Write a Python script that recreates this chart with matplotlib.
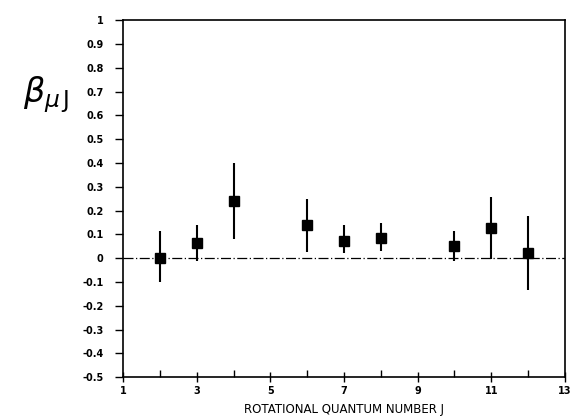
import matplotlib
matplotlib.use("Agg")
import matplotlib.pyplot as plt
import numpy as np

J = [2, 3, 4, 6, 7, 8, 10, 11, 12]
beta = [0.0, 0.064, 0.24, 0.139, 0.073, 0.083, 0.05, 0.125, 0.022]
err_low = [0.10, 0.074, 0.16, 0.113, 0.053, 0.053, 0.06, 0.13, 0.156]
err_high = [0.113, 0.076, 0.16, 0.108, 0.067, 0.063, 0.065, 0.13, 0.154]

xticks_major = [1, 3, 5, 7, 9, 11, 13]
xticks_minor = [2, 4, 6, 8, 10, 12]
yticks = [-0.5, -0.4, -0.3, -0.2, -0.1, 0, 0.1, 0.2, 0.3, 0.4, 0.5, 0.6, 0.7, 0.8, 0.9, 1]
ytick_labels = ["-0.5", "-0.4", "-0.3", "-0.2", "-0.1", "0", "0.1", "0.2", "0.3", "0.4",
                "0.5", "0.6", "0.7", "0.8", "0.9", "1"]

fig = plt.figure(figsize=(5.7, 4.2), dpi=100)
ax = fig.add_axes([0.216, 0.102, 0.775, 0.850])

ax.axhline(0, color="black", lw=0.9, ls=(0, (8, 2, 1, 2)), zorder=1)
ax.errorbar(J, beta, yerr=[err_low, err_high], fmt="s", color="black",
            markersize=7, elinewidth=1.5, capsize=0, zorder=3)

ax.set_xlim(1, 13)
ax.set_ylim(-0.5, 1)
ax.set_xticks(xticks_major)
ax.set_xticks(xticks_minor, minor=True)
ax.set_xticklabels([str(v) for v in xticks_major], fontsize=7, fontweight="bold")
ax.set_yticks(yticks)
ax.set_yticklabels(ytick_labels, fontsize=7, fontweight="bold")
ax.tick_params(axis="x", which="both", direction="inout", length=7, width=1.0, pad=3)
ax.tick_params(axis="x", which="minor", direction="in", length=5)
ax.tick_params(axis="y", direction="out", length=6, width=1.0, pad=8)

for s in ax.spines.values():
    s.set_linewidth(1.2)

ax.set_xlabel("ROTATIONAL QUANTUM NUMBER J", fontsize=8.5, labelpad=5)

fig.text(0.04, 0.775, r"$\beta_{\mu\,\mathrm{J}}$", fontsize=24, ha="left", va="center")

fig.savefig("out.png", dpi=100)
